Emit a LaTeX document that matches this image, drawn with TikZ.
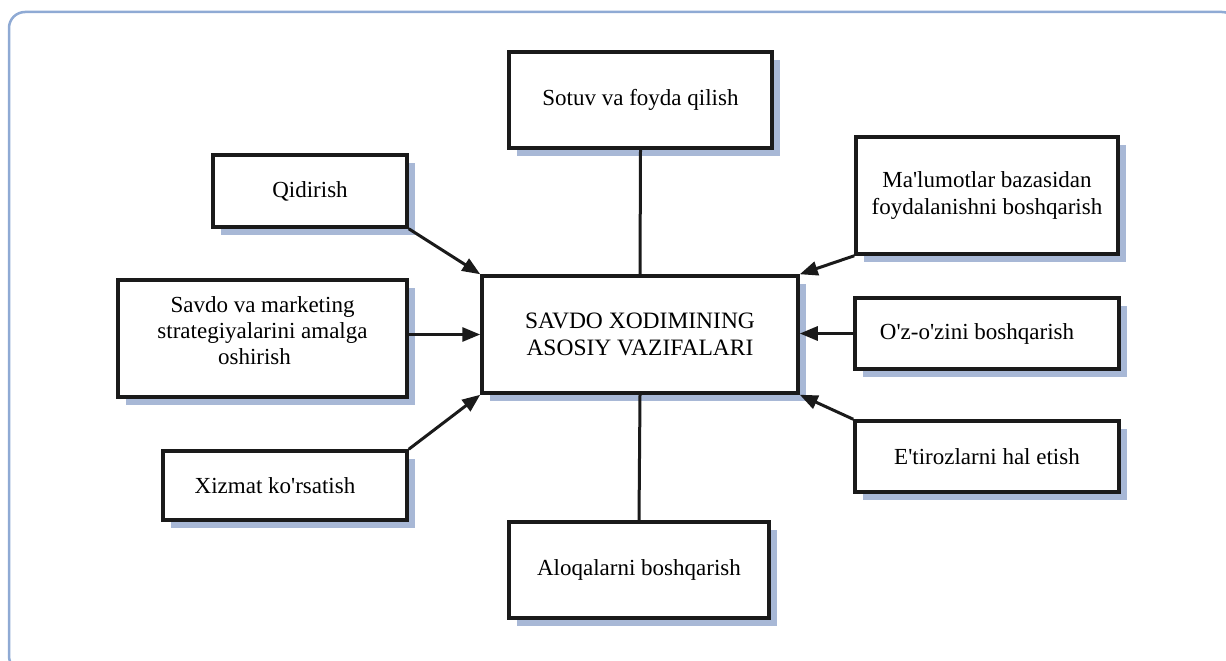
\documentclass[tikz,border=0pt]{standalone}
\usepackage{fontspec}
\setmainfont{Liberation Serif}
\usetikzlibrary{arrows.meta,shadows}
\definecolor{framecol}{HTML}{8FAAD4}
\definecolor{shadowcol}{HTML}{A8B8D6}
\definecolor{inkcol}{HTML}{1A1A1A}
\newcommand{\apos}{\textquotesingle}
\begin{document}
\begin{tikzpicture}[x=1pt,y=-1pt,
  box/.style={draw=inkcol, line width=3.5pt, fill=white, inner sep=0pt,
    align=center, font=\fontsize{23}{27}\selectfont,
    drop shadow={shadow xshift=8pt, shadow yshift=-8pt, fill=shadowcol, opacity=1}},
  link/.style={draw=inkcol, line width=3pt},
  arr/.style={link, -{Triangle[length=18pt,width=14pt]}}]
\useasboundingbox (0,0) rectangle (1226,661);
% outer frame, running past the right and bottom edges
\begin{scope}
\clip (0,0) rectangle (1226,661);
\draw[framecol, line width=2.5pt, rounded corners=16pt] (9,12) rectangle (1238,672);
\end{scope}

% central box
\node[box, minimum width=316pt, minimum height=117pt, font=\fontsize{23.5}{27}\selectfont]
  (center) at (640,334.5) {SAVDO XODIMINING\\ASOSIY VAZIFALARI};

% surrounding boxes
\node[box, minimum width=263pt, minimum height=96pt] (sotuv) at (640.5,100) {Sotuv va foyda qilish};
\node[box, minimum width=194pt, minimum height=72pt] (qid) at (310,191) {Qidirish};
\node[box, minimum width=289pt, minimum height=117pt] (savdo) at (262.5,338.5)
  {\raisebox{5pt}[\height][\depth]{\begin{tabular}{@{}c@{}}Savdo va marketing\\[-1pt]
   strategiyalarini amalga\\[-1pt] oshirish\kern16pt\end{tabular}}};
\node[box, minimum width=244pt, minimum height=69pt] (xizmat) at (285,485.5) {Xizmat ko\apos rsatish\hspace{20pt}};
\node[box, minimum width=260pt, minimum height=96pt] (aloq) at (639,570) {Aloqalarni boshqarish};
\node[box, minimum width=262pt, minimum height=117pt] (malum) at (987,195.5)
  {Ma\apos lumotlar bazasidan\hspace{6pt}\\foydalanishni boshqarish\hspace{6pt}};
\node[box, minimum width=264pt, minimum height=71pt] (oz) at (987,333.5) {O\apos z-o\apos zini boshqarish\hspace{20pt}};
\node[box, minimum width=264pt, minimum height=71pt] (etir) at (987,456.5) {E\apos tirozlarni hal etish};

% connectors
\draw[link] (sotuv.south) -- (center.north);
\draw[link] (center.south) -- (aloq.north);
\draw[arr] (qid.south east) -- (center.north west);
\draw[arr] (savdo.east |- center.west) -- (center.west);
\draw[arr] (xizmat.north east) -- (center.south west);
\draw[arr] (malum.south west) -- (center.north east);
\draw[arr] (oz.west) -- (center.east |- oz.west);
\draw[arr] (etir.north west) -- (center.south east);
\end{tikzpicture}
\end{document}
